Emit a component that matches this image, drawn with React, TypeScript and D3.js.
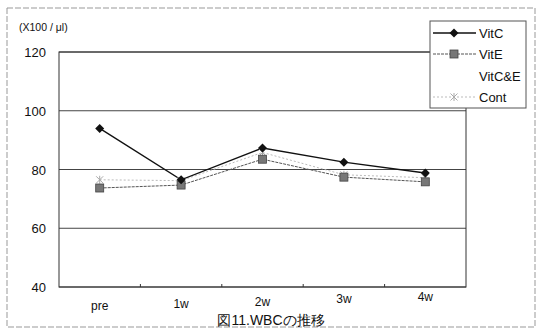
import React from "react";
import * as d3 from "d3";

const categories = ["pre", "1w", "2w", "3w", "4w"];
const vitC = [94, 76.5, 87.3, 82.5, 78.8];
const vitE = [73.7, 74.7, 83.5, 77.4, 75.8];
const cont = [76.5, 76.2, 85.8, 78.2, 77.2];
const yTicks = [40, 60, 80, 100, 120];
const legendNames = ["VitC", "VitE", "VitC&E", "Cont"];

const W = 542, H = 331;
const left = 59, right = 466, top = 52, bottom = 287;

export default function App() {
  const x = d3.scaleBand<string>().domain(categories).range([left, right]);
  const y = d3.scaleLinear().domain([40, 120]).range([bottom, top]);
  const cx = (c: string) => (x(c) as number) + x.bandwidth() / 2;
  const line = d3.line<number>().x((_, i) => cx(categories[i])).y((v) => y(v));
  const font = "'Liberation Sans', Arial, sans-serif";

  const diamond = (px: number, py: number, k: string) => (
    <path key={k} d={`M${px},${py - 4.5}L${px + 4.5},${py}L${px},${py + 4.5}L${px - 4.5},${py}Z`} fill="#111" />
  );
  const square = (px: number, py: number, k: string) => (
    <rect key={k} x={px - 4} y={py - 4} width={8} height={8} fill="#777" stroke="#444" strokeWidth={0.8} />
  );
  const cross = (px: number, py: number, k: string) => (
    <g key={k} stroke="#aaa" strokeWidth={1}>
      <line x1={px - 3.5} y1={py - 3.5} x2={px + 3.5} y2={py + 3.5} />
      <line x1={px - 3.5} y1={py + 3.5} x2={px + 3.5} y2={py - 3.5} />
      <line x1={px} y1={py - 4} x2={px} y2={py + 4} />
    </g>
  );

  const legY = [33, 54, 76, 97];

  return (
    <svg width={W} height={H} style={{ position: "absolute", left: 0, top: 0 }}>
      <rect x={0} y={0} width={W} height={H} fill="#fff" />
      <rect x={7} y={8} width={528} height={319} fill="none" stroke="#999" strokeWidth={1} strokeDasharray="6,2" />
      {yTicks.map((t) => (
        <line key={t} x1={left} x2={right} y1={y(t)} y2={y(t)} stroke="#444" strokeWidth={1} />
      ))}
      <rect x={left} y={top} width={right - left} height={bottom - top} fill="none" stroke="#333" strokeWidth={1} />
      {categories.slice(1).map((c) => (
        <line key={c} x1={x(c)} x2={x(c)} y1={bottom} y2={bottom - 3} stroke="#333" />
      ))}
      {yTicks.map((t) => (
        <text key={t} x={46} y={y(t) + 5} textAnchor="end" fontFamily={font} fontSize={13} fill="#111">{t}</text>
      ))}
      {categories.map((c, i) => (
        <text key={c} x={cx(c)} y={310 - i * 2.2} textAnchor="middle" fontFamily={font} fontSize={12} fill="#111">{c}</text>
      ))}
      <text x={19} y={31} fontFamily={font} fontSize={10.5} fill="#111">(X100 / μl)</text>
      <path d={line(cont) as string} fill="none" stroke="#bbb" strokeWidth={1} strokeDasharray="2,2" />
      <path d={line(vitE) as string} fill="none" stroke="#555" strokeWidth={1} strokeDasharray="3,1" />
      <path d={line(vitC) as string} fill="none" stroke="#111" strokeWidth={1.4} />
      {cont.map((v, i) => cross(cx(categories[i]), y(v), "c" + i))}
      {vitE.map((v, i) => square(cx(categories[i]), y(v), "e" + i))}
      {vitC.map((v, i) => diamond(cx(categories[i]), y(v), "v" + i))}
      <rect x={430} y={21} width={96} height={87} fill="#fff" stroke="#555" strokeWidth={1} />
      <line x1={433} x2={476} y1={legY[0]} y2={legY[0]} stroke="#111" strokeWidth={1.4} />
      {diamond(454, legY[0], "ld")}
      <line x1={433} x2={476} y1={legY[1]} y2={legY[1]} stroke="#555" strokeWidth={1} strokeDasharray="3,1" />
      {square(454, legY[1], "ls")}
      <line x1={433} x2={476} y1={legY[3]} y2={legY[3]} stroke="#bbb" strokeWidth={1} strokeDasharray="2,2" />
      {cross(454, legY[3], "lc")}
      {legendNames.map((n, i) => (
        <text key={n} x={479} y={legY[i] + 5} fontFamily={font} fontSize={13} fill="#111">{n}</text>
      ))}
      <text x={271} y={325} textAnchor="middle" fontFamily={font} fontSize={14} fill="#111">図11.WBCの推移</text>
    </svg>
  );
}
